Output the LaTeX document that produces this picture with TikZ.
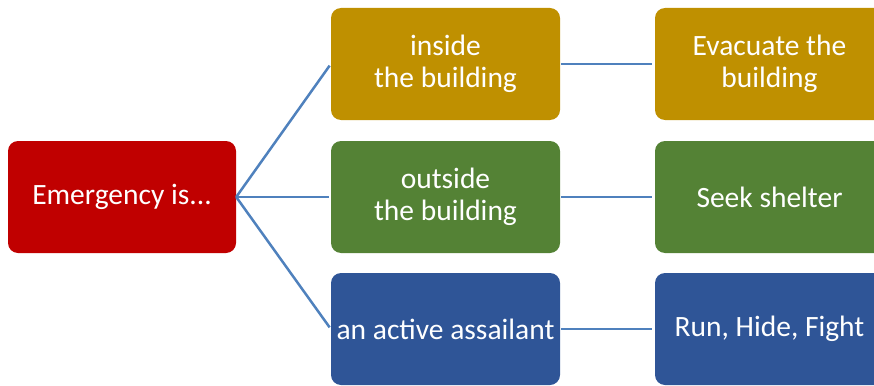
\documentclass[tikz,border=0pt]{standalone}
\usepackage{fontspec}
\setmainfont{Carlito}
\definecolor{cred}{HTML}{C00000}
\definecolor{cgold}{HTML}{BF9000}
\definecolor{cgreen}{HTML}{548235}
\definecolor{cblue}{HTML}{2F5597}
\definecolor{cline}{HTML}{4F81BD}
\begin{document}
\begin{tikzpicture}[x=1pt,y=-1pt,
  box/.style={rounded corners=10pt, minimum width=229pt, minimum height=112pt, inner sep=0pt,
    text=white, align=center, font=\fontsize{29.5}{32}\selectfont},
  conn/.style={draw=cline, line width=2.5pt}]
\useasboundingbox (0,0) rectangle (874,385);
\clip (0,0) rectangle (874,385);
\node[box, fill=cred, minimum width=228pt] (em) at (122,197) {Emergency is{.}{.}{.}};
\node[box, fill=cgold] (in) at (445.5,64) {inside\\the building};
\node[box, fill=cgreen] (out) at (445.5,197) {outside\\the building};
\node[box, fill=cblue] (as) at (445.5,329) {an active assailant};
\node[box, fill=cgold] (ev) at (769.5,64) {Evacuate the\\building};
\node[box, fill=cgreen] (se) at (769.5,197) {Seek shelter};
\node[box, fill=cblue] (ru) at (769.5,329) {Run, Hide, Fight};
\draw[conn, shorten >=2pt] (em.east) -- (in.west);
\draw[conn, shorten >=2pt] (em.east) -- (out.west);
\draw[conn, shorten >=2pt] (em.east) -- (as.west);
\draw[conn, shorten <=1pt, shorten >=3pt] (in.east) -- (ev.west);
\draw[conn, shorten <=1pt, shorten >=3pt] (out.east) -- (se.west);
\draw[conn, shorten <=1pt, shorten >=3pt] (as.east) -- (ru.west);
\end{tikzpicture}
\end{document}
